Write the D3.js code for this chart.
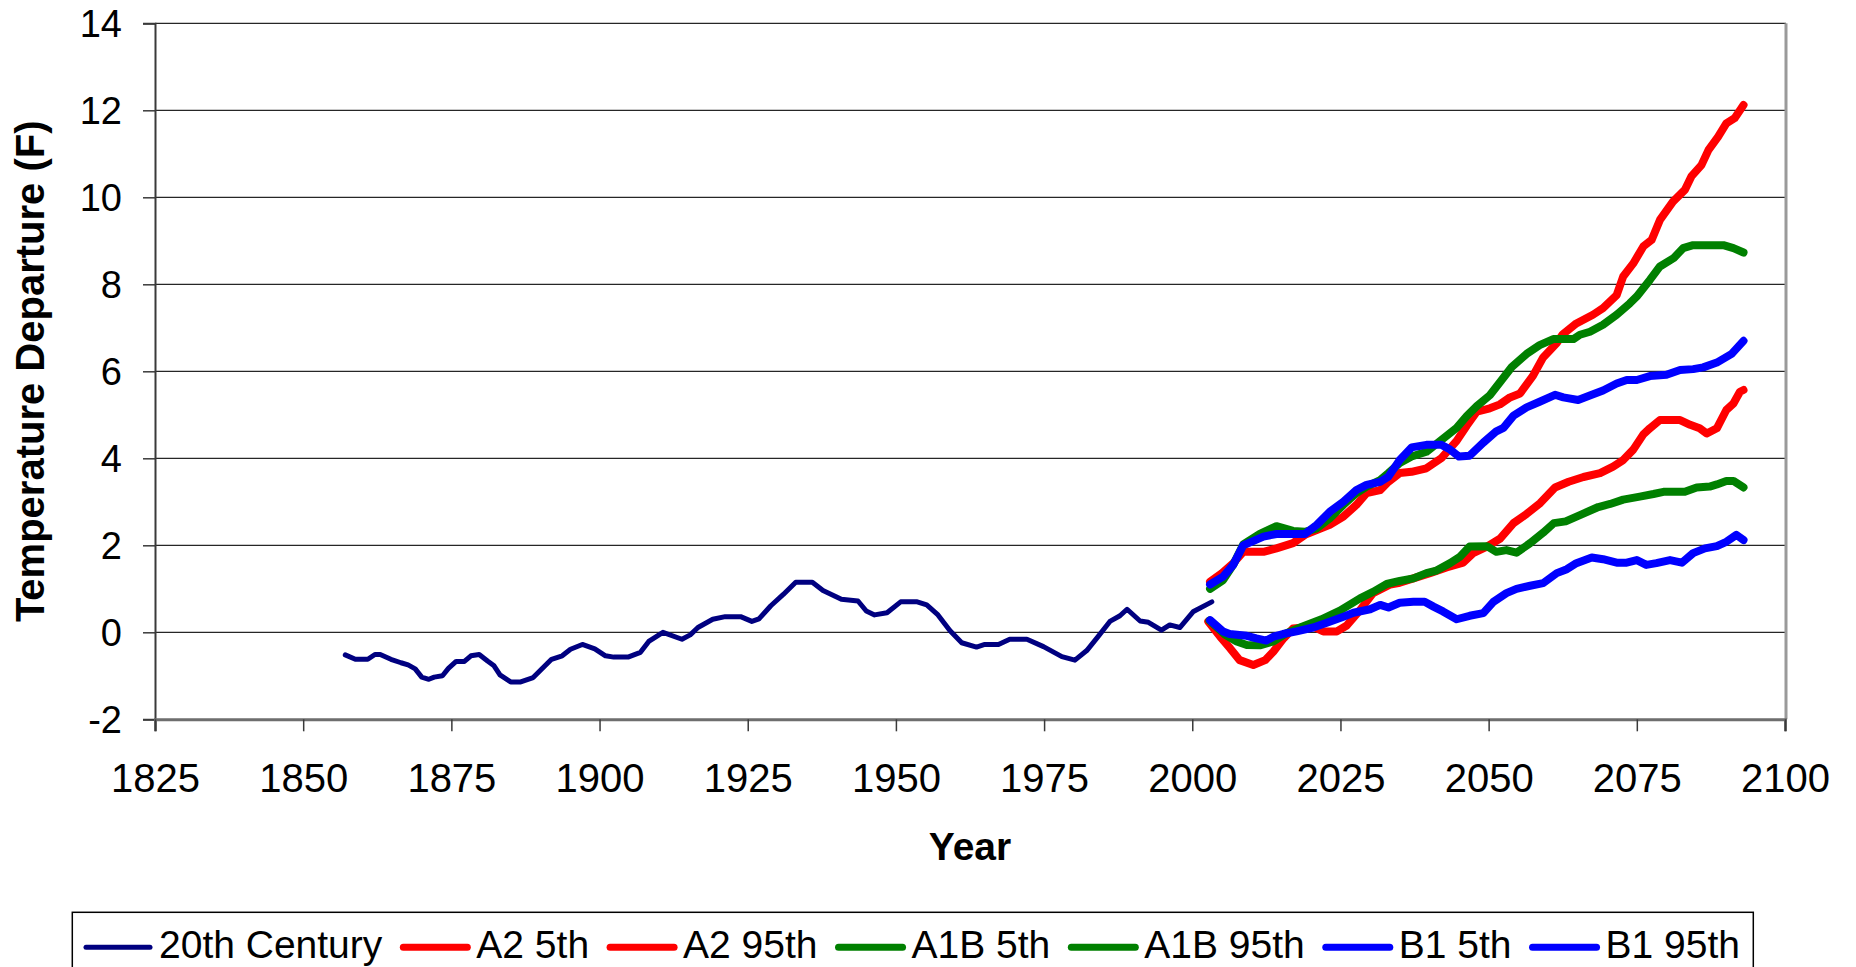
<!DOCTYPE html>
<html>
<head>
<meta charset="utf-8">
<script src="https://cdn.jsdelivr.net/npm/d3@7"></script>
<style>
  html, body { margin: 0; padding: 0; background: #fff; }
  svg { display: block; font-family: Arial, "Liberation Sans", Helvetica, sans-serif; }
</style>
</head>
<body>
<svg id="chart" width="1856" height="967"></svg>
<script>
// Observed temperature departure (smoothed) and scenario percentile projections, °F
const yTicks = [-2, 0, 2, 4, 6, 8, 10, 12, 14];
const xTicks = [1825, 1850, 1875, 1900, 1925, 1950, 1975, 2000, 2025, 2050, 2075, 2100];

const observed = [[1857.1,-0.52],[1858.8,-0.62],[1860.9,-0.62],[1862.1,-0.51],[1863,-0.51],[1864.8,-0.62],[1866.5,-0.70],[1867.7,-0.75],[1868.9,-0.84],[1870,-1.03],[1871.2,-1.08],[1872.1,-1.03],[1873.5,-1.0],[1874.5,-0.83],[1875.8,-0.67],[1877.2,-0.67],[1878.3,-0.54],[1879.7,-0.51],[1881.1,-0.66],[1882.2,-0.77],[1883.2,-0.98],[1885,-1.14],[1886.7,-1.14],[1888.8,-1.04],[1890.2,-0.85],[1891.9,-0.62],[1893.7,-0.54],[1895.1,-0.39],[1897.1,-0.28],[1899.2,-0.38],[1901,-0.54],[1902.4,-0.57],[1904.8,-0.57],[1906.9,-0.46],[1908.3,-0.21],[1910.7,0.0],[1913.9,-0.16],[1915.3,-0.06],[1916.6,0.11],[1919.1,0.30],[1921.2,0.36],[1923.8,0.36],[1925.7,0.25],[1926.9,0.31],[1928.9,0.61],[1931,0.87],[1933.1,1.15],[1935.9,1.15],[1937.7,0.96],[1940.8,0.76],[1943.6,0.72],[1945,0.49],[1946.4,0.40],[1948.5,0.45],[1950.8,0.70],[1953.6,0.70],[1955.2,0.63],[1957.1,0.40],[1959.1,0.04],[1961.1,-0.24],[1963.6,-0.34],[1965,-0.28],[1967.3,-0.28],[1969.2,-0.16],[1972.1,-0.16],[1974.9,-0.33],[1978,-0.56],[1980.2,-0.64],[1982.2,-0.42],[1984.1,-0.10],[1986.1,0.25],[1987.8,0.38],[1989,0.53],[1991.2,0.26],[1992.6,0.23],[1994.8,0.05],[1996.2,0.17],[1997.9,0.11],[2000.2,0.48],[2003.3,0.70]];

const a2Low = [[2002.7,0.25],[2004.7,-0.1],[2006.4,-0.37],[2008,-0.64],[2010.3,-0.75],[2012.3,-0.64],[2013.7,-0.44],[2015.4,-0.14],[2017,0.09],[2020.4,0.13],[2022.1,0.02],[2024.4,0.02],[2026,0.15],[2028.3,0.51],[2030.5,0.9],[2033.4,1.1],[2035,1.14],[2037.3,1.24],[2040.1,1.36],[2042.9,1.49],[2045.7,1.6],[2047.4,1.82],[2049.7,1.97],[2051.9,2.15],[2054.2,2.51],[2056.4,2.72],[2058.7,2.97],[2061.2,3.33],[2063.5,3.46],[2066,3.57],[2068.8,3.66],[2071,3.81],[2072.7,3.96],[2074.4,4.2],[2076.1,4.55],[2077.2,4.69],[2078.9,4.88],[2082.3,4.88],[2084,4.77],[2085.6,4.69],[2086.8,4.57],[2088.5,4.69],[2090.1,5.11],[2091.3,5.26],[2092.4,5.53],[2093,5.57]];

const a2High = [[2003,1.16],[2005,1.36],[2007,1.6],[2008.6,1.85],[2012,1.85],[2014.2,1.93],[2017,2.05],[2019,2.24],[2021,2.35],[2023.2,2.47],[2025.5,2.66],[2027.7,2.93],[2029.4,3.2],[2031.7,3.27],[2033.1,3.46],[2035,3.66],[2037,3.69],[2039.5,3.77],[2042,4.0],[2044.6,4.4],[2046.3,4.75],[2048,5.07],[2050.2,5.15],[2051.9,5.24],[2053.6,5.4],[2055.3,5.49],[2057.5,5.9],[2059.2,6.32],[2061.5,6.65],[2062.5,6.85],[2064.8,7.1],[2067.6,7.3],[2069.3,7.45],[2071.6,7.75],[2072.7,8.18],[2074.4,8.48],[2076.1,8.87],[2077.5,9.02],[2078.9,9.48],[2081.1,9.9],[2083.1,10.17],[2084.2,10.48],[2085.9,10.74],[2087.1,11.09],[2088.7,11.39],[2090.1,11.7],[2091.5,11.82],[2093,12.12]];

const a1bLow = [[2002.9,0.27],[2005.5,-0.05],[2007.5,-0.21],[2009.2,-0.29],[2011.4,-0.3],[2013.7,-0.21],[2015.9,-0.02],[2018.5,0.13],[2021.8,0.3],[2024.9,0.5],[2028.3,0.78],[2030.5,0.93],[2032.8,1.11],[2035,1.18],[2037.3,1.24],[2039.5,1.36],[2041.2,1.42],[2043.5,1.59],[2045.2,1.74],[2046.8,1.97],[2049.7,1.98],[2051.3,1.85],[2053,1.89],[2054.7,1.83],[2057,2.05],[2059.2,2.29],[2061,2.51],[2063,2.55],[2065.5,2.7],[2068.5,2.88],[2070.5,2.95],[2072.7,3.05],[2075.5,3.12],[2077.8,3.18],[2079.5,3.23],[2083.1,3.23],[2085.1,3.33],[2087.3,3.35],[2088.5,3.4],[2090.1,3.48],[2091.3,3.48],[2093,3.33]];

const a1bHigh = [[2003,1.0],[2005.2,1.2],[2006.9,1.55],[2008.6,2.02],[2011.4,2.26],[2014.2,2.44],[2017,2.33],[2019,2.31],[2021,2.39],[2023.2,2.62],[2025.5,2.93],[2027.7,3.2],[2029.4,3.35],[2031.7,3.5],[2033.1,3.66],[2035,3.89],[2037,4.04],[2039.5,4.15],[2042,4.42],[2044.6,4.7],[2046.3,4.97],[2048,5.2],[2050.2,5.45],[2052.2,5.8],[2053.9,6.1],[2056.4,6.4],[2058.6,6.6],[2060.9,6.74],[2064.3,6.74],[2065.4,6.84],[2067.1,6.91],[2069.3,7.07],[2071.6,7.3],[2073.8,7.56],[2075,7.72],[2077.2,8.1],[2078.9,8.41],[2081.2,8.6],[2082.8,8.83],[2084.5,8.9],[2089.6,8.9],[2091.3,8.83],[2093,8.73]];

const b1Low = [[2003,0.28],[2005.2,0.02],[2006.3,-0.04],[2009.2,-0.08],[2010.8,-0.14],[2012.5,-0.19],[2013.7,-0.10],[2015.3,-0.04],[2017.6,0.02],[2020.4,0.11],[2022.7,0.22],[2025.5,0.36],[2027.2,0.45],[2030,0.53],[2031.7,0.63],[2033.1,0.57],[2035,0.68],[2037.3,0.7],[2039.2,0.7],[2040.7,0.59],[2042.3,0.48],[2044.6,0.3],[2046.8,0.38],[2049.1,0.44],[2050.8,0.7],[2053,0.9],[2054.7,1.0],[2057,1.07],[2059.2,1.13],[2061.5,1.36],[2063.2,1.45],[2064.8,1.59],[2067.4,1.72],[2069.3,1.68],[2071.6,1.6],[2073.3,1.6],[2075,1.66],[2076.6,1.55],[2078.3,1.59],[2080.6,1.66],[2082.6,1.6],[2084.5,1.82],[2086.5,1.93],[2088.5,1.98],[2090.1,2.08],[2091.8,2.24],[2093,2.12]];

const b1High = [[2003,1.1],[2005.2,1.28],[2006.9,1.55],[2008.6,2.0],[2012,2.2],[2014.2,2.26],[2019,2.26],[2021,2.47],[2023.2,2.77],[2025.5,3.0],[2027.7,3.27],[2029.4,3.39],[2031.7,3.46],[2033.1,3.58],[2035,3.96],[2037,4.25],[2039.5,4.31],[2042,4.31],[2043.5,4.2],[2045,4.04],[2046.8,4.06],[2049.1,4.36],[2051.3,4.62],[2052.5,4.7],[2054.2,4.98],[2056.4,5.17],[2058.6,5.3],[2061.2,5.46],[2062.6,5.4],[2065.1,5.34],[2067.4,5.46],[2069.3,5.56],[2071.6,5.72],[2073.3,5.8],[2075,5.8],[2077.2,5.89],[2080,5.92],[2082.3,6.03],[2084.5,6.05],[2086.2,6.09],[2088.5,6.2],[2091,6.4],[2093,6.7]];

const seriesNames = ["20th Century", "A2 5th", "A2 95th", "A1B 5th", "A1B 95th", "B1 5th", "B1 95th"];
const seriesValues = [observed, a2Low, a2High, a1bLow, a1bHigh, b1Low, b1High];
const seriesColors = ["#000080", "#ff0000", "#ff0000", "#008000", "#008000", "#0000ff", "#0000ff"];

const svg = d3.select("#chart");
const plot = { left: 155, right: 1786, top: 23.3, bottom: 719.3 };

const x = d3.scaleLinear().domain([1825, 2100]).range([plot.left, 1785]);
const y = d3.scaleLinear().domain([-2, 14]).range([plot.bottom, plot.top]);

// plain hyphen-minus for negative tick labels
const plainNumber = d => String(d);

// horizontal gridlines
svg.append("g")
  .selectAll("line")
  .data(yTicks.filter(d => d > -2))
  .join("line")
  .attr("x1", plot.left).attr("x2", plot.right)
  .attr("y1", d => y(d)).attr("y2", d => y(d))
  .attr("stroke", "#262626").attr("stroke-width", 1.3);

// right border of the plot area
svg.append("line")
  .attr("x1", plot.right).attr("x2", plot.right)
  .attr("y1", plot.top).attr("y2", plot.bottom)
  .attr("stroke", "#9a9a9a").attr("stroke-width", 3);

// y axis
const yAxis = svg.append("g")
  .attr("transform", `translate(${plot.left},0)`)
  .call(d3.axisLeft(y).tickValues(yTicks).tickSize(12).tickPadding(21).tickFormat(plainNumber));
yAxis.select(".domain").attr("stroke", "#3a3a3a").attr("stroke-width", 2);
yAxis.selectAll(".tick line").attr("stroke", "#3a3a3a").attr("stroke-width", 1.5);
yAxis.selectAll(".tick text")
  .attr("font-size", 38).attr("fill", "#000").attr("dy", "0.35em")
  .attr("font-family", "Arial, 'Liberation Sans', sans-serif");

// x axis
const xAxis = svg.append("g")
  .attr("transform", `translate(0,${plot.bottom})`)
  .call(d3.axisBottom(x).tickValues(xTicks).tickSize(12).tickPadding(32).tickFormat(plainNumber));
xAxis.select(".domain").attr("stroke", "#6e6e6e").attr("stroke-width", 3);
xAxis.selectAll(".tick line").attr("stroke", "#3a3a3a").attr("stroke-width", 1.5);
xAxis.selectAll(".tick text")
  .attr("font-size", 40).attr("fill", "#000")
  .attr("font-family", "Arial, 'Liberation Sans', sans-serif");

// series lines
const line = d3.line().x(d => x(d[0])).y(d => y(d[1]));
svg.append("g")
  .selectAll("path")
  .data(seriesValues)
  .join("path")
  .attr("d", line)
  .attr("fill", "none")
  .attr("stroke", (d, i) => seriesColors[i])
  .attr("stroke-width", (d, i) => i === 0 ? 5 : 8)
  .attr("stroke-linejoin", "round")
  .attr("stroke-linecap", "round");

// axis titles
svg.append("text")
  .attr("x", (plot.left + 1785) / 2).attr("y", 860)
  .attr("text-anchor", "middle")
  .attr("font-size", 39).attr("font-weight", "bold")
  .text("Year");

svg.append("text")
  .attr("transform", `translate(44,${(plot.top + plot.bottom) / 2}) rotate(-90)`)
  .attr("text-anchor", "middle")
  .attr("font-size", 40).attr("font-weight", "bold")
  .text("Temperature Departure (F)");

// legend
const legend = svg.append("g");
legend.append("rect")
  .attr("x", 72.3).attr("y", 912.3)
  .attr("width", 1753.3 - 72.3).attr("height", 80)
  .attr("fill", "#fff").attr("stroke", "#000").attr("stroke-width", 1.5);

let cursor = 86;
seriesNames.forEach((name, i) => {
  legend.append("line")
    .attr("x1", cursor).attr("x2", cursor + 64)
    .attr("y1", 947.3).attr("y2", 947.3)
    .attr("stroke", seriesColors[i])
    .attr("stroke-width", i === 0 ? 5 : 7)
    .attr("stroke-linecap", "round");
  const t = legend.append("text")
    .attr("x", cursor + 73).attr("y", 957.5)
    .attr("font-size", 39)
    .text(name);
  cursor += 73 + t.node().getComputedTextLength() + 21;
});
</script>
</body>
</html>
